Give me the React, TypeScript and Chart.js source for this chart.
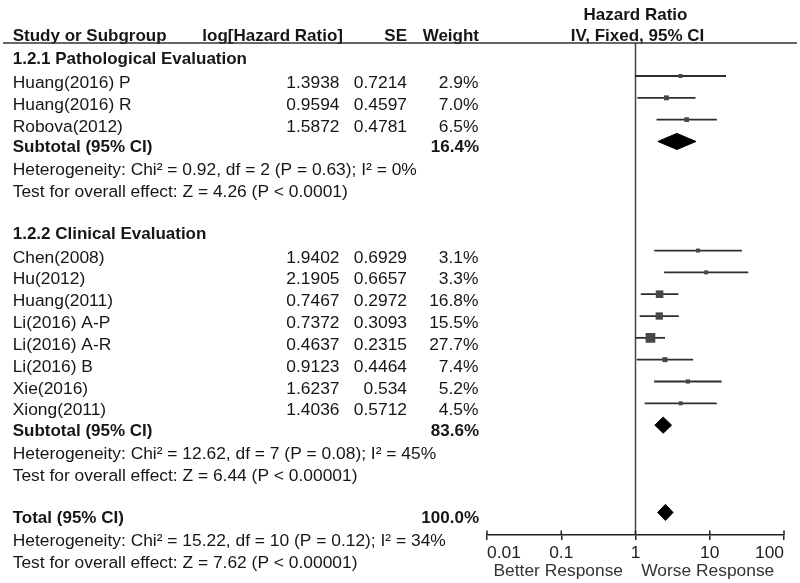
import React, { useEffect, useRef } from "react";
import { Chart, registerables } from "chart.js";

Chart.register(...registerables);

// ---- data ----
const studies = [
  "Huang(2016) P",
  "Huang(2016) R",
  "Robova(2012)",
  "Chen(2008)",
  "Hu(2012)",
  "Huang(2011)",
  "Li(2016) A-P",
  "Li(2016) A-R",
  "Li(2016) B",
  "Xie(2016)",
  "Xiong(2011)",
];
const studyRows = [0, 1, 2, 8, 9, 10, 11, 12, 13, 14, 15];
const logHR = [1.3938, 0.9594, 1.5872, 1.9402, 2.1905, 0.7467, 0.7372, 0.4637, 0.9123, 1.6237, 1.4036];
const seValues = [0.7214, 0.4597, 0.4781, 0.6929, 0.6657, 0.2972, 0.3093, 0.2315, 0.4464, 0.534, 0.5712];
const weights = [2.9, 7.0, 6.5, 3.1, 3.3, 16.8, 15.5, 27.7, 7.4, 5.2, 4.5];
const hr = [4.03, 2.61, 4.89, 6.96, 8.94, 2.11, 2.09, 1.59, 2.49, 5.07, 4.07];
const ciLow = [0.98, 1.06, 1.92, 1.79, 2.43, 1.18, 1.14, 1.01, 1.04, 1.78, 1.33];
const ciHigh = [16.57, 6.43, 12.48, 27.07, 32.96, 3.78, 3.83, 2.5, 5.97, 14.45, 12.47];

const pooledLabels = ["Subtotal (95% CI)", "Subtotal (95% CI)", "Total (95% CI)"];
const pooledRows = [3, 16, 20];
const pooledWeights = [16.4, 83.6, 100.0];
const pooledHR = [3.61, 2.36, 2.53];
const pooledLow = [2.0, 1.82, 1.99];
const pooledHigh = [6.52, 3.06, 3.21];

const headingRows = [-1, 7];
const headingTexts = ["1.2.1 Pathological Evaluation", "1.2.2 Clinical Evaluation"];

const statRows = [4, 5, 17, 18, 21, 22];
const statTexts = [
  "Heterogeneity: Chi\u00b2 = 0.92, df = 2 (P = 0.63); I\u00b2 = 0%",
  "Test for overall effect: Z = 4.26 (P < 0.0001)",
  "Heterogeneity: Chi\u00b2 = 12.62, df = 7 (P = 0.08); I\u00b2 = 45%",
  "Test for overall effect: Z = 6.44 (P < 0.00001)",
  "Heterogeneity: Chi\u00b2 = 15.22, df = 10 (P = 0.12); I\u00b2 = 34%",
  "Test for overall effect: Z = 7.62 (P < 0.00001)",
];

const tickValues = [0.01, 0.1, 1, 10, 100];
const tickLabels = ["0.01", "0.1", "1", "10", "100"];
const favourLabels = ["Better Response", "Worse Response"];

// ---- layout constants ----
const FONT = "'Liberation Sans', Arial, Helvetica, sans-serif";
const Y_MIN = -1.512;
const Y_MAX = 21.035;
const TEXT_DY = 7.3;
const DIAMOND_HALF = 0.37;
const TEXT_COLOR = "#161616";

const textPlugin = {
  id: "forestText",
  afterDraw(chart: any) {
    const ctx: CanvasRenderingContext2D = chart.ctx;
    const ys = chart.scales.y;
    const xs = chart.scales.x;
    const area = chart.chartArea;
    const ty = (r: number) => ys.getPixelForValue(r) + TEXT_DY;
    const bold = `bold 17px ${FONT}`;
    const reg = `17.4px ${FONT}`;
    const xName = 12.7;
    const xLog = 339.5;
    const xSE = 407;
    const xW = 478.5;

    ctx.save();
    ctx.fillStyle = TEXT_COLOR;
    ctx.textBaseline = "middle";

    // header
    ctx.font = bold;
    ctx.textAlign = "left";
    ctx.fillText("Study or Subgroup", xName, 36.7);
    ctx.textAlign = "right";
    ctx.fillText("log[Hazard Ratio]", 343, 36.7);
    ctx.fillText("SE", xSE, 36.7);
    ctx.fillText("Weight", 479, 36.7);
    ctx.textAlign = "center";
    const x1 = xs.getPixelForValue(1);
    ctx.fillText("Hazard Ratio", x1, 15);
    ctx.fillText("IV, Fixed, 95% CI", x1 + 2, 36.7);

    // header rule
    ctx.strokeStyle = "#333";
    ctx.lineWidth = 1.6;
    ctx.beginPath();
    ctx.moveTo(3, 43);
    ctx.lineTo(797, 43);
    ctx.stroke();

    // headings
    ctx.textAlign = "left";
    ctx.font = bold;
    headingRows.forEach((r, i) => ctx.fillText(headingTexts[i], xName, ty(r) - 2));

    // studies
    ctx.font = reg;
    studies.forEach((s, i) => {
      const y = ty(studyRows[i]);
      ctx.textAlign = "left";
      ctx.fillText(s, xName, y);
      ctx.textAlign = "right";
      ctx.fillText(String(logHR[i]), xLog, y);
      ctx.fillText(String(seValues[i]), xSE, y);
      ctx.fillText(weights[i].toFixed(1) + "%", xW, y);
    });

    // pooled
    ctx.font = bold;
    pooledLabels.forEach((s, i) => {
      const y = ty(pooledRows[i]) - 1.5;
      ctx.textAlign = "left";
      ctx.fillText(s, xName, y);
      ctx.textAlign = "right";
      ctx.fillText(pooledWeights[i].toFixed(1) + "%", 479, y);
    });

    // stats
    ctx.font = reg;
    ctx.textAlign = "left";
    statRows.forEach((r, i) => ctx.fillText(statTexts[i], xName, ty(r)));

    // upward tick marks
    ctx.strokeStyle = "#222";
    ctx.lineWidth = 1.5;
    tickValues.forEach((v) => {
      const x = xs.getPixelForValue(v);
      ctx.beginPath();
      ctx.moveTo(x, area.bottom - 4.5);
      ctx.lineTo(x, area.bottom);
      ctx.stroke();
    });

    // favour labels
    ctx.fillStyle = "#333";
    ctx.font = reg;
    ctx.textAlign = "center";
    ctx.fillText(favourLabels[0], xs.getPixelForValue(0.1) - 3, 571.7);
    ctx.fillText(favourLabels[1], xs.getPixelForValue(10) - 2, 571.7);
    ctx.restore();
  },
};

export default function App() {
  const ref = useRef<HTMLCanvasElement | null>(null);

  useEffect(() => {
    if (!ref.current) return;
    Chart.defaults.font.family = FONT;

    const ciSets = studies.map((s, i) => ({
      type: "line" as const,
      label: s,
      data: [
        { x: ciLow[i], y: studyRows[i] },
        { x: ciHigh[i], y: studyRows[i] },
      ],
      borderColor: "#2e2e2e",
      borderWidth: 1.8,
      pointRadius: 0,
      fill: false,
      order: 2,
    }));

    const squareSet = {
      type: "scatter" as const,
      label: "HR",
      data: studies.map((_, i) => ({ x: hr[i], y: studyRows[i] })),
      pointStyle: "rect",
      pointRadius: weights.map((w) => Math.max(4, 1.85 * Math.sqrt(w)) / Math.SQRT2),
      backgroundColor: "#474747",
      borderColor: "#474747",
      borderWidth: 0,
      order: 0,
    };

    const diamondSets = pooledHR.map((h, i) => ({
      type: "line" as const,
      label: pooledLabels[i],
      data: [
        { x: pooledLow[i], y: pooledRows[i] },
        { x: h, y: pooledRows[i] - DIAMOND_HALF },
        { x: pooledHigh[i], y: pooledRows[i] },
        { x: h, y: pooledRows[i] + DIAMOND_HALF },
        { x: pooledLow[i], y: pooledRows[i] },
      ],
      borderColor: "#000",
      backgroundColor: "#000",
      borderWidth: 1,
      pointRadius: 0,
      tension: 0,
      fill: "shape",
      order: 0,
    }));

    const nullLine = {
      type: "line" as const,
      label: "null",
      data: [
        { x: 1, y: Y_MIN },
        { x: 1, y: Y_MAX },
      ],
      borderColor: "#444",
      borderWidth: 1.5,
      pointRadius: 0,
      fill: false,
      order: 3,
    };

    const chart = new Chart(ref.current, {
      type: "scatter",
      data: { datasets: [nullLine, ...ciSets, squareSet, ...diamondSets] as any },
      options: {
        animation: false,
        responsive: false,
        layout: { padding: { left: 487, right: 16, top: 43, bottom: 0 } },
        plugins: { legend: { display: false }, tooltip: { enabled: false } },
        scales: {
          x: {
            type: "logarithmic",
            min: 0.01,
            max: 100,
            position: "bottom",
            afterBuildTicks: (s: any) => {
              s.ticks = tickValues.map((v) => ({ value: v }));
            },
            afterFit: (s: any) => {
              s.height = 48;
            },
            ticks: {
              callback: (_v: any, i: number) => tickLabels[i],
              align: "inner",
              font: { size: 17.4, family: FONT },
              color: "#222",
              padding: 3,
              autoSkip: false,
              maxRotation: 0,
            },
            grid: {
              drawOnChartArea: false,
              drawTicks: true,
              tickLength: 5,
              color: "#222",
              lineWidth: 1.5,
            },
            border: { display: true, color: "#222", width: 1.5 },
          },
          y: {
            type: "linear",
            display: false,
            min: Y_MIN,
            max: Y_MAX,
            reverse: true,
          },
        },
      } as any,
      plugins: [textPlugin],
    });

    return () => chart.destroy();
  }, []);

  return (
    <div style={{ position: "absolute", left: 0, top: 0, width: 800, height: 583, background: "#fff" }}>
      <canvas ref={ref} width={800} height={583} style={{ display: "block" }} />
    </div>
  );
}
